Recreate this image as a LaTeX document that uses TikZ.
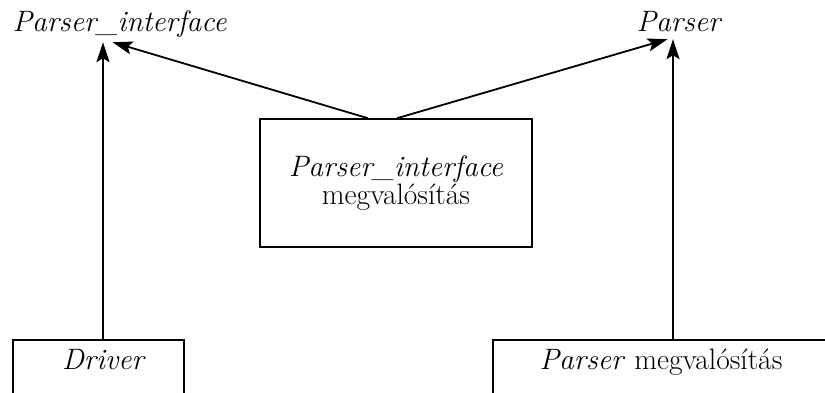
\documentclass[tikz,border=0pt]{standalone}
\usepackage{fontspec}
\usetikzlibrary{arrows.meta}
\begin{document}
\begin{tikzpicture}[x=1pt,y=-1pt,
  txt/.style={font=\fontsize{29.5}{28.5}\selectfont},
  lbl/.style={font=\fontsize{29.5}{28.5}\selectfont\itshape, inner xsep=0pt, inner ysep=4pt, text depth=6pt, anchor=base},
  box/.style={txt, draw, line width=1.5pt, inner sep=0pt},
  openbox/.style={box, anchor=north, text height=30pt, text depth=50pt},
  arr/.style={-{Stealth[length=20pt,width=13pt,inset=4pt]}, line width=1.8pt}]
\useasboundingbox (0,0) rectangle (825,393);
\clip (0,0) rectangle (825,393);

% interface names at the top
\node[lbl] (pif) at (119.5,32) {Parser\_interface};
\node[lbl, inner ysep=1pt] (par) at (678.5,32) {Parser};

% implementation of the interface
\node[box, minimum width=272pt, minimum height=128pt, align=center]
  (impl) at (396,183) {\textit{Parser\_interface}\\megvalósítás};

% boxes running off the lower edge
\node[openbox, minimum width=171pt] (drv) at (98.5,339) {\hspace*{11pt}\textit{Driver}};
\node[openbox, minimum width=336pt] (pimp) at (661,339) {\textit{Parser} megvalósítás};

% foot points of the vertical arrows
\coordinate (dup) at ([xshift=4.5pt]drv.north);
\coordinate (pup) at ([xshift=12pt]pimp.north);

\draw[arr] (dup) -- (dup |- pif.south);
\draw[arr] (pup) -- (pup |- par.south);
\draw[arr] ([xshift=-28pt]impl.north) -- ([xshift=-7pt]pif.south);
\draw[arr] ([xshift=1pt]impl.north) -- ([xshift=-11pt]par.south);
\end{tikzpicture}
\end{document}
